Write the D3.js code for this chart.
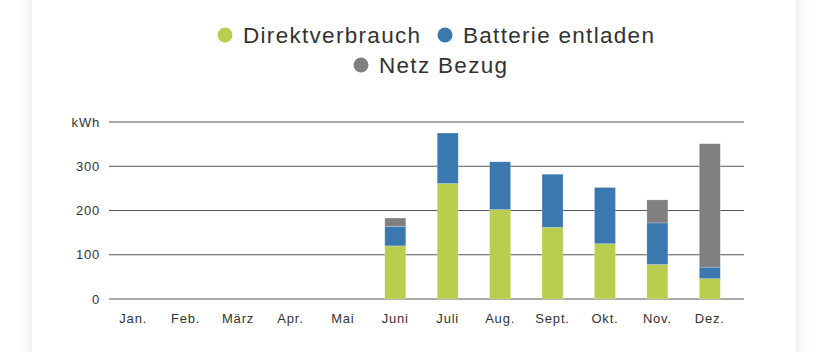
<!DOCTYPE html>
<html><head><meta charset="utf-8">
<script src="https://cdn.jsdelivr.net/npm/d3@7"></script>
<style>
html,body{margin:0;padding:0;background:#fff;}
svg{display:block;}
</style></head>
<body>
<svg id="c" width="828" height="352"></svg>
<script>
const months = ["Jan.","Feb.","März","Apr.","Mai","Juni","Juli","Aug.","Sept.","Okt.","Nov.","Dez."];
const direktverbrauch = [0,0,0,0,0,120,261,202,162,125,78,46];
const batterieEntladen = [0,0,0,0,0,44,114,108,120,127,94,26];
const netzBezug = [0,0,0,0,0,19,0,0,0,0,52,279];
const seriesNames = ["Direktverbrauch","Batterie entladen","Netz Bezug"];
const seriesColors = ["#b9cd4f","#3b78b0","#808080"];
const yTicks = [0,100,200,300];

const svg = d3.select("#c");
const defs = svg.append("defs");
const f = defs.append("filter").attr("id","sh").attr("x","-10%").attr("y","-10%").attr("width","120%").attr("height","120%");
f.append("feGaussianBlur").attr("in","SourceAlpha").attr("stdDeviation",8);
f.append("feComponentTransfer").append("feFuncA").attr("type","linear").attr("slope",0.12);
const m = f.append("feMerge"); m.append("feMergeNode"); m.append("feMergeNode").attr("in","SourceGraphic");
svg.append("rect").attr("x",32).attr("y",-40).attr("width",764).attr("height",440).attr("fill","#fff").attr("filter","url(#sh)");

const font = "'Helvetica Neue', 'Liberation Sans', Arial, sans-serif";

// legend
const legRows = [{y:35,items:[{i:0,x:225},{i:1,x:445}]},{y:65,items:[{i:2,x:361}]}];
legRows.forEach(r=>{
  r.items.forEach(it=>{
    svg.append("circle").attr("cx",it.x).attr("cy",r.y).attr("r",7.5).attr("fill",seriesColors[it.i]);
    svg.append("text").attr("x",it.x+18).attr("y",r.y).attr("dy","0.35em")
      .attr("font-family",font).attr("font-size",22.5).attr("fill","#333").attr("letter-spacing","1.3px")
      .text(seriesNames[it.i]);
  });
});

const x = d3.scaleBand().domain(months).range([107,736]).paddingInner(0.6).paddingOuter(0.3);
const y = d3.scaleLinear().domain([0,400]).range([299,122]);

// grid
const gl = yTicks.concat([400]);
svg.append("g").selectAll("line").data(gl).join("line")
  .attr("x1",109).attr("x2",744).attr("y1",d=>y(d)).attr("y2",d=>y(d))
  .attr("stroke","#555").attr("stroke-width",1);

svg.append("g").selectAll("text").data(yTicks).join("text")
  .attr("x",100).attr("y",d=>y(d)).attr("dy","0.35em").attr("text-anchor","end")
  .attr("font-family",font).attr("font-size",13).attr("fill","#333").attr("letter-spacing","0.8px")
  .text(d=>d);
svg.append("text").attr("x",100).attr("y",y(400)).attr("dy","0.35em").attr("text-anchor","end")
  .attr("font-family",font).attr("font-size",13).attr("fill","#333").attr("letter-spacing","0.8px").text("kWh");

// bars
const data = months.map((mo,i)=>({mo, Direktverbrauch:direktverbrauch[i], "Batterie entladen":batterieEntladen[i], "Netz Bezug":netzBezug[i]}));
const stack = d3.stack().keys(seriesNames)(data);
const bw = 21;
svg.append("g").selectAll("g").data(stack).join("g").attr("fill",(d,i)=>seriesColors[i])
  .selectAll("rect").data(d=>d.filter(s=>s[1]-s[0]>0)).join("rect")
  .attr("x",d=>x(d.data.mo)+x.bandwidth()/2-bw/2).attr("width",bw)
  .attr("y",d=>y(d[1])).attr("height",d=>y(d[0])-y(d[1]))
  .attr("stroke","rgba(255,255,255,0.35)").attr("stroke-width",0.6);

// x axis labels
svg.append("g").selectAll("text").data(months).join("text")
  .attr("x",d=>x(d)+x.bandwidth()/2).attr("y",318).attr("dy","0.35em").attr("text-anchor","middle")
  .attr("font-family",font).attr("font-size",13).attr("fill","#333").attr("letter-spacing","0.8px")
  .text(d=>d);
</script>
</body></html>
